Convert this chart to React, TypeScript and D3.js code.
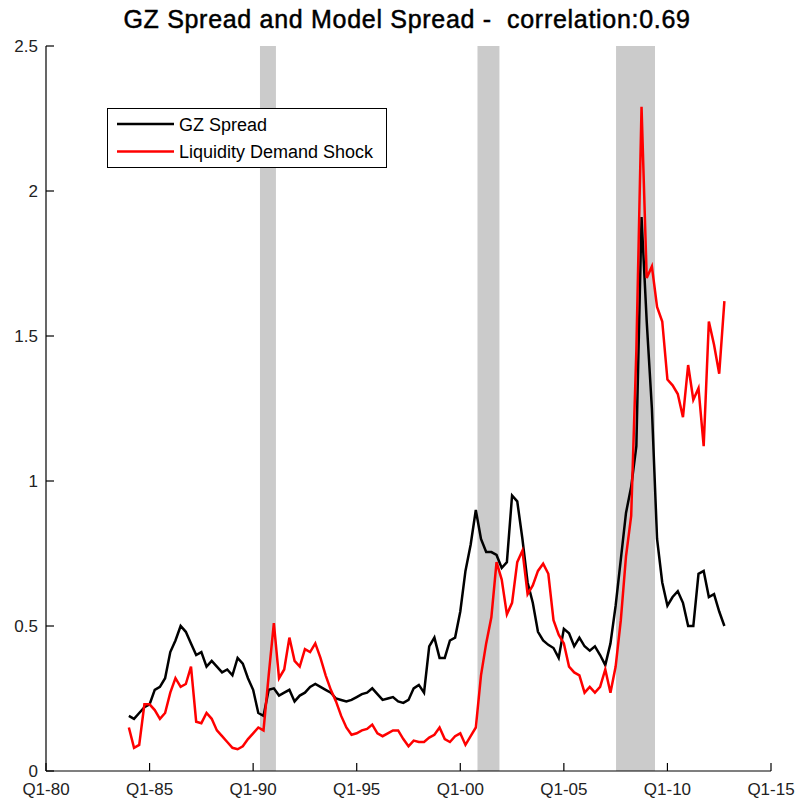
import React from 'react';
import * as d3 from 'd3';

const START_YEAR = 1984;

const gzSpread = [
  0.19, 0.18, 0.20, 0.22,
  0.23, 0.28, 0.29, 0.32,
  0.41, 0.45, 0.50, 0.48,
  0.44, 0.40, 0.41, 0.36,
  0.38, 0.36, 0.34, 0.35,
  0.33, 0.39, 0.37, 0.32,
  0.28, 0.20, 0.19, 0.28,
  0.285, 0.26, 0.27, 0.28,
  0.24, 0.26, 0.27, 0.29,
  0.30, 0.29, 0.28, 0.27,
  0.25, 0.245, 0.24, 0.245,
  0.255, 0.265, 0.27, 0.285,
  0.265, 0.245, 0.25, 0.255,
  0.24, 0.235, 0.245, 0.285,
  0.297, 0.27, 0.43, 0.46,
  0.39, 0.39, 0.45, 0.46,
  0.55, 0.69, 0.78, 0.90,
  0.80, 0.755, 0.755, 0.745,
  0.70, 0.72, 0.95, 0.93,
  0.80, 0.65, 0.58, 0.48,
  0.45, 0.435, 0.424, 0.39,
  0.49, 0.475, 0.43, 0.46,
  0.43, 0.415, 0.43, 0.40,
  0.365, 0.44, 0.57, 0.73,
  0.89, 0.98, 1.12, 1.91,
  1.55, 1.25, 0.80, 0.65,
  0.57, 0.60, 0.62, 0.58,
  0.50, 0.50, 0.68, 0.69,
  0.60, 0.61, 0.55, 0.50,
];

const liquidityShock = [
  0.15, 0.08, 0.09, 0.23,
  0.23, 0.21, 0.18, 0.20,
  0.27, 0.32, 0.29, 0.30,
  0.36, 0.17, 0.165, 0.20,
  0.18, 0.14, 0.12, 0.10,
  0.08, 0.075, 0.085, 0.11,
  0.13, 0.15, 0.14, 0.33,
  0.51, 0.32, 0.35, 0.46,
  0.38, 0.36, 0.42, 0.41,
  0.44, 0.39, 0.33, 0.28,
  0.24, 0.19, 0.15, 0.125,
  0.13, 0.14, 0.145, 0.16,
  0.13, 0.12, 0.13, 0.14,
  0.14, 0.11, 0.085, 0.105,
  0.10, 0.10, 0.115, 0.125,
  0.15, 0.11, 0.10, 0.12,
  0.13, 0.09, 0.12, 0.15,
  0.33, 0.44, 0.53, 0.72,
  0.66, 0.54, 0.58, 0.72,
  0.76, 0.61, 0.64, 0.69,
  0.715, 0.68, 0.52, 0.47,
  0.44, 0.36, 0.34, 0.33,
  0.27, 0.29, 0.27, 0.29,
  0.35, 0.27, 0.36, 0.52,
  0.74, 0.88, 1.45, 2.29,
  1.70, 1.74, 1.60, 1.55,
  1.35, 1.33, 1.30, 1.22,
  1.40, 1.28, 1.32, 1.12,
  1.55, 1.47, 1.37, 1.62,
];

const quarterTimes = gzSpread.map((_, i) => START_YEAR + i / 4);

const recessions: [number, number][] = [
  [1990.33, 1991.1],
  [2000.83, 2001.89],
  [2007.52, 2009.4],
];

const xTicks = [1980, 1985, 1990, 1995, 2000, 2005, 2010, 2015];
const xTickLabels = ['Q1-80', 'Q1-85', 'Q1-90', 'Q1-95', 'Q1-00', 'Q1-05', 'Q1-10', 'Q1-15'];
const yTicks = [0, 0.5, 1, 1.5, 2, 2.5];
const yTickLabels = ['0', '0.5', '1', '1.5', '2', '2.5'];

const seriesNames = ['GZ Spread', 'Liquidity Demand Shock'];
const seriesColors = ['#000000', '#ff0000'];
const titleText = 'GZ Spread and Model Spread -  correlation:0.69';

const FONT = '"Liberation Sans", Arial, Helvetica, sans-serif';

export default function App() {
  const W = 798;
  const H = 802;
  const left = 46;
  const right = 771;
  const top = 46;
  const bottom = 771;

  const x = d3.scaleLinear().domain([1980, 2015]).range([left, right]);
  const y = d3.scaleLinear().domain([0, 2.5]).range([bottom, top]);

  const line = d3
    .line<number>()
    .x((_, i) => x(quarterTimes[i]))
    .y((d) => y(d));

  const series = [gzSpread, liquidityShock];
  const tickLen = 8;

  return (
    <svg
      width={W}
      height={H}
      style={{ position: 'absolute', left: 0, top: 0, background: '#fff' }}
      fontFamily={FONT}
    >
      <rect x={0} y={0} width={W} height={H} fill="#fff" />
      {recessions.map(([a, b], i) => (
        <rect key={i} x={x(a)} y={top} width={x(b) - x(a)} height={bottom - top} fill="#cbcbcb" />
      ))}
      {series.map((s, i) => (
        <path
          key={i}
          d={line(s) || ''}
          fill="none"
          stroke={seriesColors[i]}
          strokeWidth={2.5}
          strokeLinejoin="miter"
        />
      ))}
      <line x1={left} y1={top} x2={left} y2={bottom} stroke="#000" strokeWidth={1.2} />
      <line x1={left} y1={bottom} x2={right} y2={bottom} stroke="#000" strokeWidth={1.2} />
      {xTicks.map((t, i) => (
        <g key={t}>
          <line x1={x(t)} x2={x(t)} y1={bottom} y2={bottom - tickLen} stroke="#000" strokeWidth={1.2} />
          <text x={x(t)} y={795} textAnchor="middle" fontSize={17} fill="#222">
            {xTickLabels[i]}
          </text>
        </g>
      ))}
      {yTicks.map((t, i) => (
        <g key={t}>
          <line x1={left} x2={left + tickLen} y1={y(t)} y2={y(t)} stroke="#000" strokeWidth={1.2} />
          <text x={38} y={y(t) + 6} textAnchor="end" fontSize={17} fill="#222">
            {yTickLabels[i]}
          </text>
        </g>
      ))}
      <text
        x={407}
        y={28}
        textAnchor="middle"
        fontSize={25}
        letterSpacing={0.7}
        stroke="#000"
        strokeWidth={0.5}
        fill="#000"
        style={{ whiteSpace: 'pre' }}
      >
        {titleText}
      </text>
      <rect x={107.5} y={108.5} width={279} height={59} fill="#fff" stroke="#000" strokeWidth={1} />
      {seriesNames.map((name, i) => (
        <g key={name}>
          <line
            x1={117}
            x2={174}
            y1={124 + i * 27.5}
            y2={124 + i * 27.5}
            stroke={seriesColors[i]}
            strokeWidth={2.5}
          />
          <text x={179} y={130.5 + i * 27.5} fontSize={18} fill="#000">
            {name}
          </text>
        </g>
      ))}
    </svg>
  );
}
